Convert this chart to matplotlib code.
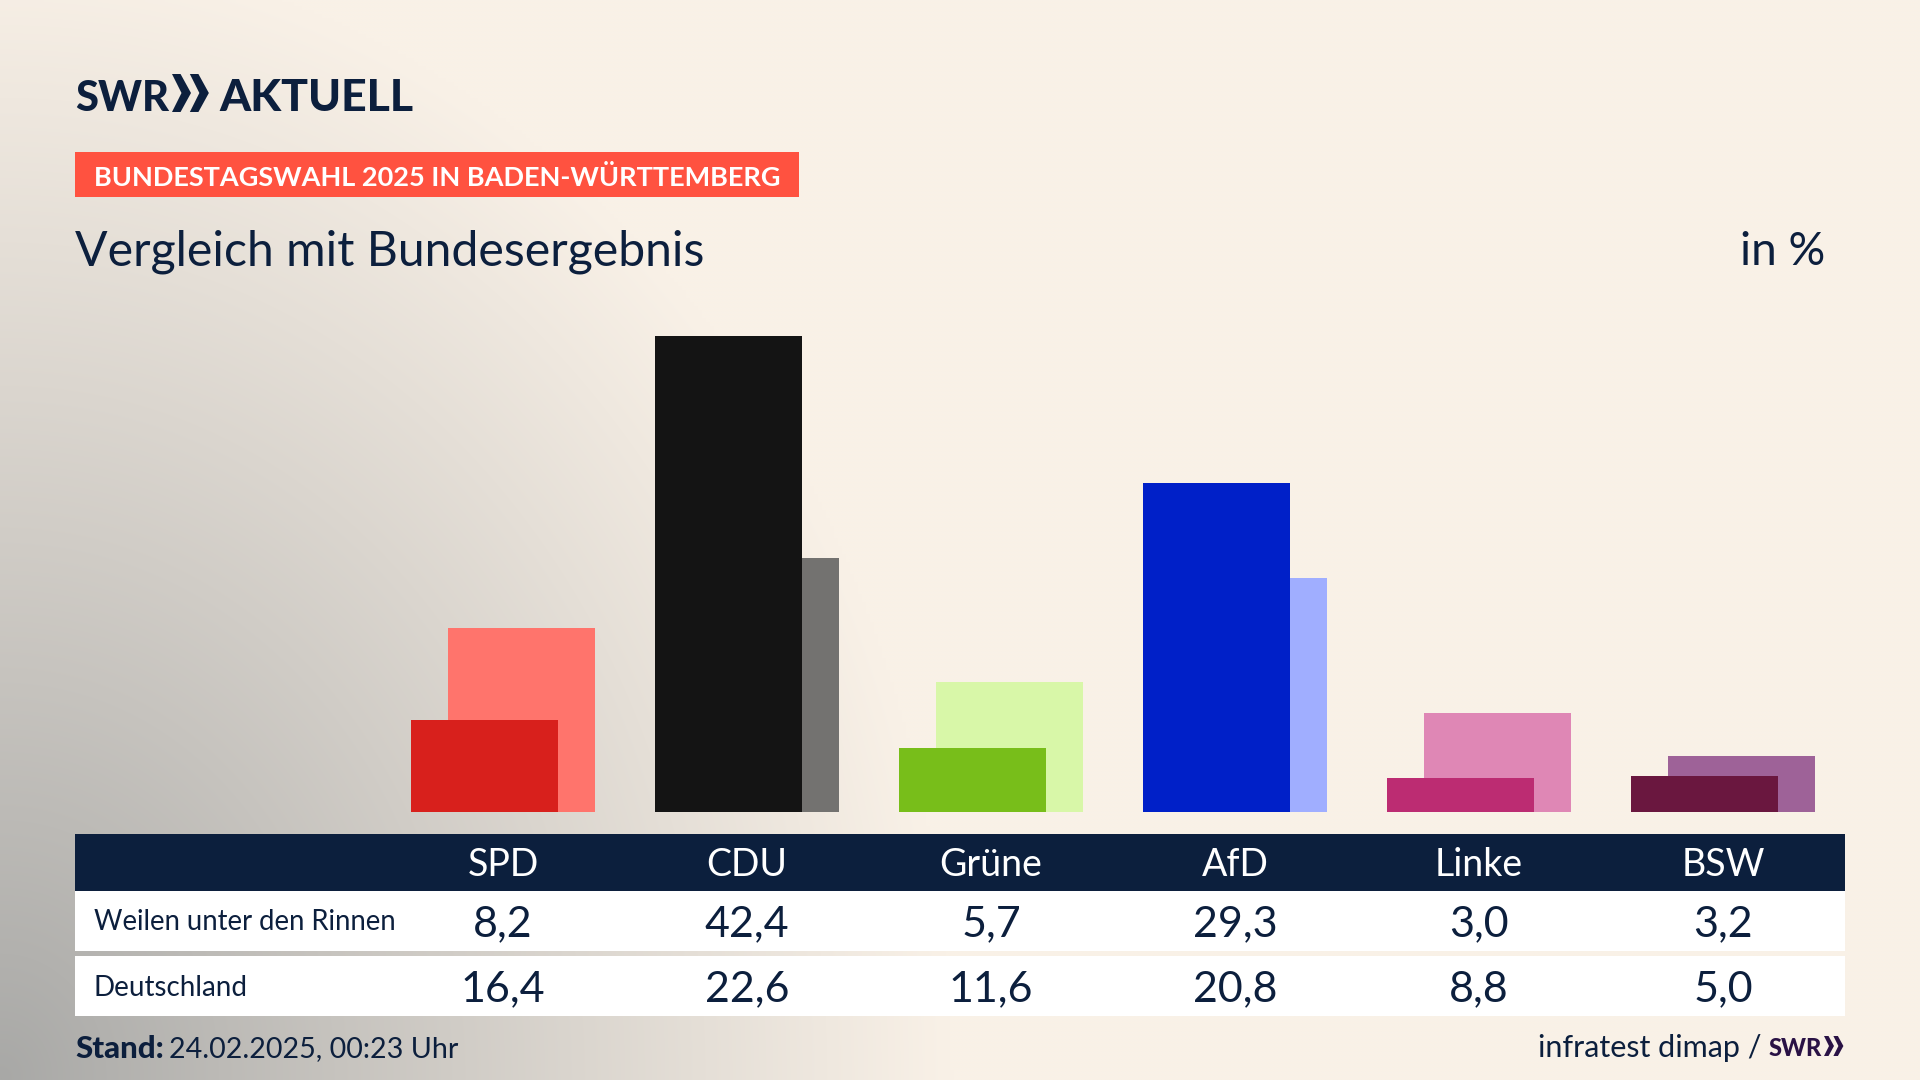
import numpy as np
import matplotlib
matplotlib.use("Agg")
import matplotlib.pyplot as plt
from matplotlib.patches import Rectangle, Polygon

parteien = ["SPD", "CDU", "Grüne", "AfD", "Linke", "BSW"]
weilen = [8.2, 42.4, 5.7, 29.3, 3.0, 3.2]
deutschland = [16.4, 22.6, 11.6, 20.8, 8.8, 5.0]
farben_vorne = ["#D8201C", "#141414", "#78BE1A", "#0020C8", "#BC2C72", "#6A173F"]
farben_hinten = ["#FF746C", "#737270", "#D8F7A8", "#A0AEFF", "#DF87B5", "#9E6298"]
zeilen = ["Weilen unter den Rinnen", "Deutschland"]

NAVY = "#0C1F3D"
plt.rcParams["font.family"] = ["Lato", "DejaVu Sans"]


def komma(v):
    return f"{v:.1f}".replace(".", ",")


fig = plt.figure(figsize=(19.2, 10.8), dpi=100)

# hintergrund, ganze flaeche in pixeln
bg = fig.add_axes([0, 0, 1, 1])
bg.set_xlim(0, 1920)
bg.set_ylim(1080, 0)
bg.axis("off")

yy, xx = np.mgrid[0:1080:270j, 0:1920:480j]
t = np.sqrt((xx / 950.0) ** 2 + ((1080 - yy) / 1130.0) ** 2)
t = np.clip(t, 0, 1) ** 0.95
hell = np.array([249, 241, 231]) / 255.0
grau = np.array([168, 168, 166]) / 255.0
verlauf = grau + (hell - grau) * t[..., None]
bg.imshow(verlauf, extent=(0, 1920, 1080, 0), aspect="auto", interpolation="bilinear")
bg.set_xlim(0, 1920)
bg.set_ylim(1080, 0)


def chevrons(x, y, h, col):
    # die zwei pfeile vom logo
    w = h * 0.5
    for dx in (0, h * 0.47):
        bg.add_patch(Polygon([(x + dx, y), (x + dx + w * 0.45, y), (x + dx + w, y + h / 2),
                              (x + dx + w * 0.45, y + h), (x + dx, y + h),
                              (x + dx + w * 0.5, y + h / 2)], closed=True, color=col, lw=0))


# kopf
bg.text(75, 111, "SWR", fontsize=30, fontweight="black", color=NAVY, va="baseline")
chevrons(172, 74, 38, NAVY)
bg.text(219, 111, "AKTUELL", fontsize=32, fontweight="black", color=NAVY, va="baseline")

bg.add_patch(Rectangle((75, 152), 724, 45, color="#FF5240", lw=0))
bg.text(94, 175, "BUNDESTAGSWAHL 2025 IN BADEN-WÜRTTEMBERG", fontsize=19.5, fontweight="bold", color="white", va="center_baseline")
bg.text(75, 248, "Vergleich mit Bundesergebnis", fontsize=34.7, color=NAVY, va="center_baseline")
bg.text(1825, 248, "in %", fontsize=33, color=NAVY, va="center_baseline", ha="right")

# tabelle
bg.add_patch(Rectangle((75, 834), 1770, 57, color=NAVY, lw=0))
bg.add_patch(Rectangle((75, 891), 1770, 60, color="white", lw=0))
bg.add_patch(Rectangle((75, 956), 1770, 60, color="white", lw=0))
mitte = [503 + i * 244.0 for i in range(len(parteien))]
for i, p in enumerate(parteien):
    bg.text(mitte[i], 862, p, fontsize=27, color="white", ha="center", va="center_baseline")
    bg.text(mitte[i], 920.5, komma(weilen[i]), fontsize=31, color=NAVY, ha="center", va="center_baseline")
    bg.text(mitte[i], 986, komma(deutschland[i]), fontsize=31, color=NAVY, ha="center", va="center_baseline")
bg.text(94, 920, zeilen[0], fontsize=19.8, color=NAVY, va="center_baseline")
bg.text(94, 986, zeilen[1], fontsize=20, color=NAVY, va="center_baseline")

# fuss
bg.text(75, 1047, "Stand:", fontsize=22.5, fontweight="black", color=NAVY, va="center_baseline")
bg.text(169, 1047, "24.02.2025, 00:23 Uhr", fontsize=20.6, color=NAVY, va="center_baseline")
bg.text(1761, 1046, "infratest dimap /", fontsize=22, color=NAVY, va="center_baseline", ha="right")
bg.text(1769, 1056, "SWR", fontsize=17, fontweight="black", color="#2A1245", va="baseline")
chevrons(1824, 1036, 20, "#2A1245")

# balken, eigene achse: 0 liegt bei pixel 812
basis = 812.0
pro_prozent = 11.23
schritt = 244.0
ax = fig.add_axes([0, (1080 - basis) / 1080, 1, basis / 1080])
ax.patch.set_alpha(0)
ax.axis("off")
ax.set_xlim(-503 / schritt, (1920 - 503) / schritt)
ax.set_ylim(0, basis / pro_prozent)
x = np.arange(len(parteien))
breite = 147 / schritt
versatz = 18.3 / schritt
ax.bar(x + versatz, deutschland, breite, color=farben_hinten, zorder=1)
ax.bar(x - versatz, weilen, breite, color=farben_vorne, zorder=2)

fig.savefig("out.png", dpi=100)
